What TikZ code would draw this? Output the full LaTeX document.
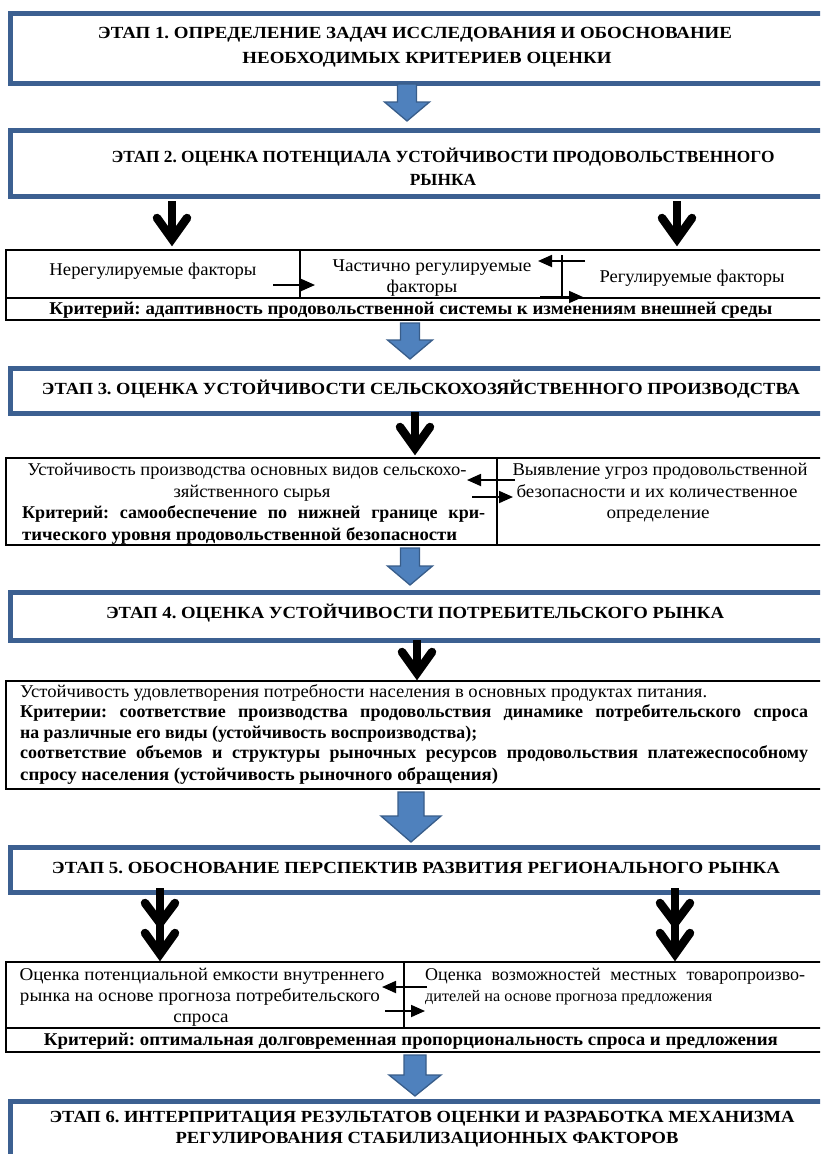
\documentclass[tikz,border=0pt]{standalone}
\usepackage{fontspec}
\setmainfont{Liberation Serif}
\usetikzlibrary{arrows.meta,calc}
\definecolor{stageblue}{RGB}{60,96,145}
\definecolor{arrowfill}{RGB}{79,129,189}
\definecolor{arrowdraw}{RGB}{56,93,138}
\frenchspacing
\newcounter{tlc}
\newcommand\fitw[2]{\begingroup\setbox0=\hbox{#2}\pgfmathsetmacro\fitratio{#1/\the\wd0}\global\let\lastratio\fitratio\scalebox{\fitratio}[1]{\box0}\endgroup}
\newcommand\justw[2]{\begingroup\setbox0=\hbox{#2}\ifdim\wd0>#1pt\pgfmathsetmacro\fitratio{#1/\the\wd0}\scalebox{\fitratio}[1]{\box0}\else\makebox[#1pt][s]{#2}\fi\endgroup}
\newcommand\bodyfont{\fontsize{18}{22}\selectfont\frenchspacing}
\newcommand\smallbodyfont{\fontsize{16.2}{22}\selectfont\frenchspacing}
\newcommand\hdrfont{\fontsize{17}{22}\selectfont\bfseries}
% natural line
\newcommand\tl[4]{\stepcounter{tlc}\node[anchor=#1,inner sep=0pt,font=\bodyfont] (tl\arabic{tlc}) at (#2,#3+5) {#4};}
% fitted line
\newcommand\tlw[5]{\stepcounter{tlc}\node[anchor=#1,inner sep=0pt,font=\bodyfont] (tl\arabic{tlc}) at (#2,#3+5) {\fitw{#4}{#5}};}
% line with last ratio
\newcommand\tlr[4]{\stepcounter{tlc}\node[anchor=#1,inner sep=0pt,font=\bodyfont] (tl\arabic{tlc}) at (#2,#3+5) {\scalebox{\lastratio}[1]{#4}};}
% justified line
\newcommand\tlj[4]{\stepcounter{tlc}\node[anchor=base west,inner sep=0pt,font=\bodyfont] (tl\arabic{tlc}) at (#1,#2+5) {\justw{#3}{#4}};}
% block arrow: x, ytop, yneck, ytip, halfshaft, halfhead
\newcommand\barrow[6]{\filldraw[fill=arrowfill, draw=arrowdraw, line width=1.3pt, line join=miter]
 (#1-#5,#2) -- (#1+#5,#2) -- (#1+#5,#3) -- (#1+#6,#3) -- (#1,#4) -- (#1-#6,#3) -- (#1-#5,#3) -- cycle;}
% black chevron arrow: x, ytop, ytip
\newcommand\chev[3]{\draw[line width=8.5pt] (#1,#2) -- (#1,#3-12);
 \draw[line width=8.5pt, line cap=round, line join=miter, miter limit=20] (#1-15,#3-28) -- (#1,#3-7) -- (#1+15,#3-28);}
\newcommand\dchev[3]{\draw[line width=8.5pt] (#1,#2) -- (#1,#3-12);
 \draw[line width=8.5pt, line cap=round, line join=miter, miter limit=20] (#1-15,#3-58) -- (#1,#3-38) -- (#1+15,#3-58);
 \draw[line width=8.5pt, line cap=round, line join=miter, miter limit=20] (#1-15,#3-28) -- (#1,#3-7) -- (#1+15,#3-28);}
\tikzset{
 stagebox/.style={draw=stageblue, line width=5pt, anchor=north west, inner sep=0pt, fill=white},
 cell/.style={draw=black, line width=1.7pt},
 smallarrow/.style={line width=1.8pt, -{Triangle[length=14pt,width=12pt]}},
}
\begin{document}
\begin{tikzpicture}[x=1pt,y=-1pt]
\clip (0,0) rectangle (820,1154);
\fill[white] (0,0) rectangle (820,1154);

% ---- Stage 1
\node[stagebox, minimum width=850pt, minimum height=70pt] (s1) at (8,10.5) {};
\tlw{base}{415}{33}{634}{\hdrfont ЭТАП 1. ОПРЕДЕЛЕНИЕ ЗАДАЧ ИССЛЕДОВАНИЯ И ОБОСНОВАНИЕ}
\tlr{base}{427}{58}{\hdrfont НЕОБХОДИМЫХ КРИТЕРИЕВ ОЦЕНКИ}
\barrow{407}{84}{102}{121}{9.5}{22.5}

% ---- Stage 2
\node[stagebox, minimum width=850pt, minimum height=66pt] (s2) at (8,128) {};
\tlw{base}{443}{157}{663}{\hdrfont ЭТАП 2. ОЦЕНКА ПОТЕНЦИАЛА УСТОЙЧИВОСТИ ПРОДОВОЛЬСТВЕННОГО}
\tlr{base}{443}{180}{\hdrfont РЫНКА}
\chev{172}{201}{246}
\chev{677}{201}{246}

% ---- Factors box
\draw[cell] (6,250) rectangle (822,320);
\draw[cell] (6,298) -- (822,298);
\draw[cell] (300,250) -- (300,298);
\tlw{base}{153}{270}{207}{Нерегулируемые факторы}
\tlw{base}{432}{266}{199}{Частично регулируемые}
\tlr{base}{422}{287}{факторы}
\tlw{base}{692}{277}{185}{Регулируемые факторы}
\tlw{base}{411}{309}{723}{\bfseries Критерий: адаптивность продовольственной системы к изменениям внешней среды}
\draw[line width=1.8pt] (562,255) -- (562,297);
\draw[smallarrow] (585,261) -- (538,261);
\draw[smallarrow] (540,297) -- (583,297);
\draw[smallarrow] (273,285) -- (315,285);
\barrow{410}{323}{340}{359}{9.5}{22.5}

% ---- Stage 3
\node[stagebox, minimum width=850pt, minimum height=45pt] (s3) at (8,366) {};
\tlw{base}{421}{389}{758}{\hdrfont ЭТАП 3. ОЦЕНКА УСТОЙЧИВОСТИ СЕЛЬСКОХОЗЯЙСТВЕННОГО ПРОИЗВОДСТВА}
\chev{415}{412}{455}

% ---- Box 3
\draw[cell] (6,458) rectangle (822,545);
\draw[cell] (497,458) -- (497,545);
\tlw{base}{247}{470}{439}{Устойчивость производства основных видов сельскохо-}
\tlw{base}{252}{492}{157}{зяйственного сырья}
\tlj{22}{513}{463}{\bfseries Критерий: самообеспечение по нижней границе кри-}
\tlw{base west}{22}{535}{435}{\bfseries тического уровня продовольственной безопасности}
\tlw{base}{660}{470}{295}{Выявление угроз продовольственной}
\tlw{base}{657}{492}{281}{безопасности и их количественное}
\tlw{base}{658}{513}{103}{определение}
\draw[smallarrow] (515,480) -- (467,480);
\draw[smallarrow] (472,497) -- (513,497);
\barrow{410}{548}{566}{585}{9.5}{22.5}

% ---- Stage 4
\node[stagebox, minimum width=850pt, minimum height=48pt] (s4) at (8,590) {};
\tlw{base}{415}{613}{618}{\hdrfont ЭТАП 4. ОЦЕНКА УСТОЙЧИВОСТИ ПОТРЕБИТЕЛЬСКОГО РЫНКА}
\chev{417}{640}{680}

% ---- Box 4
\draw[cell] (6,681) rectangle (822,789);
\tlw{base west}{20}{692}{687}{Устойчивость удовлетворения потребности населения в основных продуктах питания.}
\tlj{20}{712}{788}{\bfseries Критерии: соответствие производства продовольствия динамике потребительского спроса}
\tlw{base west}{20}{733}{457}{\bfseries на различные его виды (устойчивость воспроизводства);}
\tlj{20}{753}{788}{\bfseries соответствие объемов и структуры рыночных ресурсов продовольствия платежеспособному}
\tlw{base west}{20}{775}{478}{\bfseries спросу населения (устойчивость рыночного обращения)}
\barrow{411}{792}{816}{842}{13}{30}

% ---- Stage 5
\node[stagebox, minimum width=850pt, minimum height=45pt] (s5) at (8,845) {};
\tlw{base}{416}{868}{728}{\hdrfont ЭТАП 5. ОБОСНОВАНИЕ ПЕРСПЕКТИВ РАЗВИТИЯ РЕГИОНАЛЬНОГО РЫНКА}
\dchev{160}{888}{961}
\dchev{675}{888}{961}

% ---- Box 5
\draw[cell] (6,962) rectangle (822,1052);
\draw[cell] (6,1028) -- (822,1028);
\draw[cell] (404,962) -- (404,1028);
\tlw{base}{202}{975}{365}{Оценка потенциальной емкости внутреннего}
\tlw{base}{200}{996}{360}{рынка на основе прогноза потребительского}
\tlr{base}{201}{1017}{спроса}
\tlj{425}{975}{380}{Оценка возможностей местных товаропроизво-}
\stepcounter{tlc}\node[anchor=base west,inner sep=0pt,font=\smallbodyfont] (tl\arabic{tlc}) at (425,1001) {дителей на основе прогноза предложения};
\draw[smallarrow] (427,987) -- (382,987);
\draw[smallarrow] (385,1011) -- (425,1011);
\tlw{base}{411}{1040}{734}{\bfseries Критерий: оптимальная долговременная пропорциональность спроса и предложения}
\barrow{415}{1055}{1075}{1096}{11}{26}

% ---- Stage 6
\node[stagebox, minimum width=850pt, minimum height=120pt] (s6) at (8,1099) {};
\tlw{base}{422}{1117}{745}{\hdrfont ЭТАП 6. ИНТЕРПРИТАЦИЯ РЕЗУЛЬТАТОВ ОЦЕНКИ И РАЗРАБОТКА МЕХАНИЗМА}
\tlr{base}{427}{1138}{\hdrfont РЕГУЛИРОВАНИЯ СТАБИЛИЗАЦИОННЫХ ФАКТОРОВ}
\end{tikzpicture}
\end{document}
